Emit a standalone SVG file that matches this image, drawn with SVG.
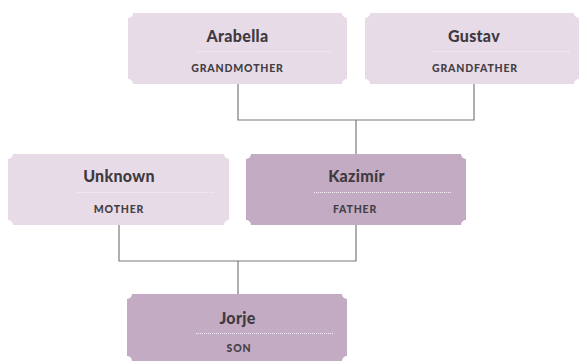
<svg xmlns="http://www.w3.org/2000/svg" width="581" height="362" viewBox="0 0 581 362">
<style>
.light{fill:#e8dbe8}
.dark{fill:#c4abc4}
.name{font-family:Lato,"Liberation Sans",sans-serif;font-weight:900;font-size:16px;letter-spacing:0.3px;fill:#3f3a3f;text-anchor:middle}
.role{font-family:Lato,"Liberation Sans",sans-serif;font-weight:900;font-size:10.5px;letter-spacing:0.8px;fill:#444044;text-anchor:middle}
.dot{stroke:#f7f0f7;stroke-width:1;stroke-dasharray:1 1;fill:none}
.conn{stroke:#7a7a7a;stroke-width:1.2;fill:none}
</style>
<g id="connectors">
<path class="conn" d="M238,84 V120 H474 V84"/>
<path class="conn" d="M356,120 V154"/>
<path class="conn" d="M119,225 V261 H356 V225"/>
<path class="conn" d="M238,261 V294"/>
</g>
<g id="arabella">
<path class="light" d="M133,13 H342 A5,5 0 0 0 347,18 V79 A5,5 0 0 0 342,84 H133 A5,5 0 0 0 128,79 V18 A5,5 0 0 0 133,13 Z"/>
<text class="name" x="237.5" y="42">Arabella</text>
<line class="dot" x1="197" y1="51.5" x2="333" y2="51.5"/>
<text class="role" x="237.5" y="72">GRANDMOTHER</text>
</g>
<g id="gustav">
<path class="light" d="M370,13 H574 A5,5 0 0 0 579,18 V79 A5,5 0 0 0 574,84 H370 A5,5 0 0 0 365,79 V18 A5,5 0 0 0 370,13 Z"/>
<text class="name" x="474" y="42">Gustav</text>
<line class="dot" x1="432" y1="51.5" x2="570" y2="51.5"/>
<text class="role" x="475" y="72">GRANDFATHER</text>
</g>
<g id="unknown">
<path class="light" d="M13,154 H224 A5,5 0 0 0 229,159 V220 A5,5 0 0 0 224,225 H13 A5,5 0 0 0 8,220 V159 A5,5 0 0 0 13,154 Z"/>
<text class="name" x="119" y="182">Unknown</text>
<line class="dot" x1="77" y1="192.5" x2="215" y2="192.5"/>
<text class="role" x="119" y="213">MOTHER</text>
</g>
<g id="kazimir">
<path class="dark" d="M251,154 H461 A5,5 0 0 0 466,159 V220 A5,5 0 0 0 461,225 H251 A5,5 0 0 0 246,220 V159 A5,5 0 0 0 251,154 Z"/>
<text class="name" x="356.5" y="182">Kazimír</text>
<line class="dot" x1="314" y1="192.5" x2="452" y2="192.5"/>
<text class="role" x="355" y="213">FATHER</text>
</g>
<g id="jorje">
<path class="dark" d="M132,294 H342 A5,5 0 0 0 347,299 V356 A5,5 0 0 0 342,361 H132 A5,5 0 0 0 127,356 V299 A5,5 0 0 0 132,294 Z"/>
<text class="name" x="237.5" y="324">Jorje</text>
<line class="dot" x1="196" y1="333.5" x2="333" y2="333.5"/>
<text class="role" x="239" y="352">SON</text>
</g>
</svg>
